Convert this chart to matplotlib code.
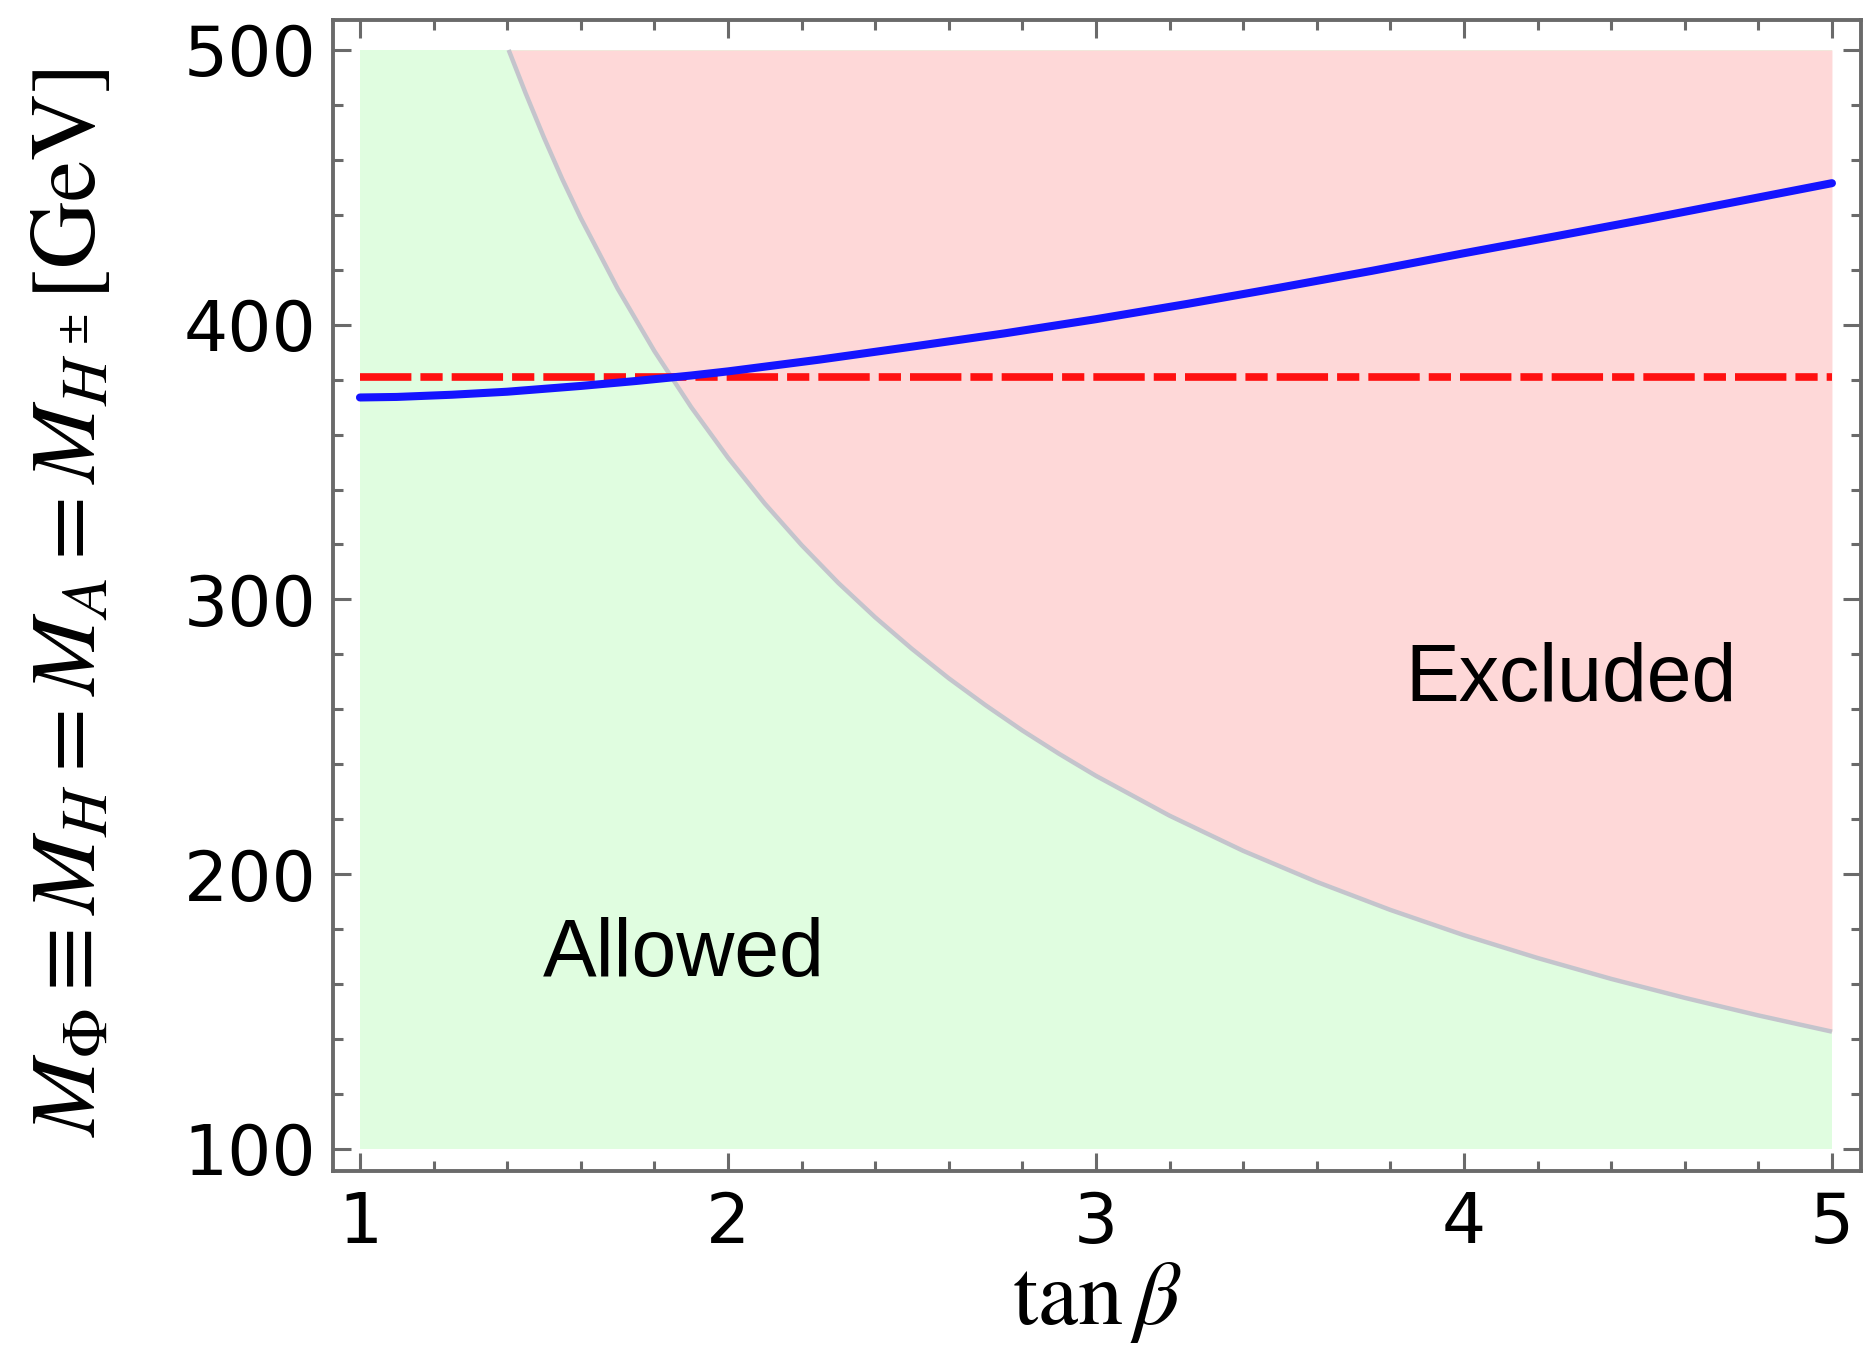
import numpy as np
import matplotlib
matplotlib.use("Agg")
import matplotlib.pyplot as plt

# ---- data ----
tanb_bound = [1.404, 1.45, 1.5, 1.55, 1.6, 1.7, 1.8, 1.9, 2.0, 2.1, 2.2, 2.3, 2.4, 2.5,
              2.6, 2.7, 2.8, 2.9, 3.0, 3.2, 3.4, 3.6, 3.8, 4.0, 4.2, 4.4, 4.6, 4.8, 5.0]
mass_bound = [500, 484.3, 468.1, 452.9, 438.8, 413.2, 390.4, 370.0, 351.6, 334.9, 319.8,
              306.0, 293.5, 282.0, 271.3, 261.5, 252.3, 243.8, 235.8, 221.3, 208.5, 197.2,
              187.0, 177.8, 169.5, 161.9, 155.0, 148.6, 142.7]

tanb_blue = [1.0, 1.1, 1.25, 1.4, 1.6, 1.75, 1.9, 2.0, 2.25, 2.5, 2.75, 3.0, 3.25,
             3.5, 3.75, 4.0, 4.25, 4.5, 4.75, 5.0]
mass_blue = [373.5, 373.7, 374.5, 375.6, 377.7, 379.5, 381.5, 383.0, 387.3, 392.0, 396.8,
             402.0, 407.6, 413.5, 419.6, 426.0, 432.2, 438.5, 445.0, 451.5]

red_level = 381.0
x_range = [1.0, 5.0]
y_range = [100.0, 500.0]

xticks = [1, 2, 3, 4, 5]
yticks = [100, 200, 300, 400, 500]

plt.rcParams['mathtext.fontset'] = 'stix'
plt.rcParams['lines.scale_dashes'] = False

fig = plt.figure(figsize=(18.64, 13.49), dpi=100)
ax = fig.add_axes([0.1787, 0.1320, 0.9984 - 0.1787, 0.9852 - 0.1320])

frame_col = '#6a6a6a'
green = '#e0fde0'
pink = '#fed8d8'

# allowed region (whole box), excluded region above boundary
ax.fill_between(x_range, [y_range[0]] * 2, [y_range[1]] * 2, color=green, lw=0, zorder=1)
ax.fill_between(tanb_bound, mass_bound, [y_range[1]] * len(tanb_bound), color=pink, lw=0, zorder=2)
ax.plot(tanb_bound, mass_bound, color='#c4c4cc', lw=3.2, zorder=3, solid_capstyle='butt')

# red dash-dot line
ax.plot(x_range, [red_level, red_level], color='#ff1010', lw=5.5,
        dashes=(37, 6.5, 16, 6.5), dash_capstyle='butt', zorder=4)
# blue line
ax.plot(tanb_blue, mass_blue, color='#1414ff', lw=5.8, zorder=5, solid_capstyle='round')

ax.set_xlim(0.927, 5.079)
ax.set_ylim(92, 510.9)

ax.set_xticks(xticks)
ax.set_yticks(yticks)
ax.set_xticks(np.arange(1, 5.001, 0.2), minor=True)
ax.set_yticks(np.arange(100, 500.1, 20), minor=True)
ax.tick_params(which='both', direction='in', top=True, right=True, color=frame_col)
ax.tick_params(which='major', length=13, width=2.2)
ax.tick_params(which='minor', length=7, width=2.2)
ax.tick_params(axis='x', which='major', pad=14)
ax.tick_params(axis='y', which='major', pad=12)
for spine in ax.spines.values():
    spine.set_color(frame_col)
    spine.set_linewidth(2.8)

tick_font = 'DejaVu Sans'
ax.set_xticklabels([str(t) for t in xticks], fontsize=50, family=tick_font)
ax.set_yticklabels([str(t) for t in yticks], fontsize=50, family=tick_font)

ax.text(1.88, 170.6, 'Allowed', fontsize=58, family='Liberation Sans', ha='center', va='center', zorder=6)
ax.text(4.29, 270.7, 'Excluded', fontsize=58, family='Liberation Sans', ha='center', va='center', zorder=6)

ax.set_xlabel(r'$\tan\beta$', fontsize=65, labelpad=0)
ax.set_ylabel(r'$M_\Phi \equiv M_H = M_A = M_{H^\pm}$[GeV]', fontsize=67,
              family='STIXGeneral')
ax.yaxis.set_label_coords(-0.143, 0.4935)

fig.savefig('out.png', dpi=100)
